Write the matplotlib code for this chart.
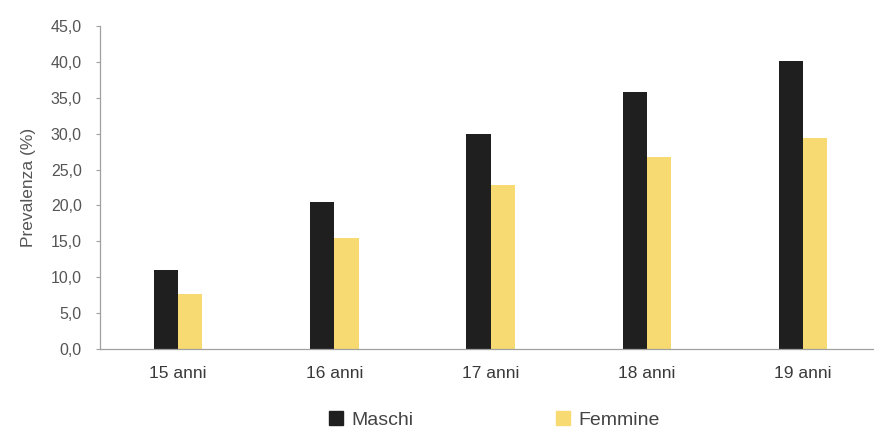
import numpy as np
import matplotlib
matplotlib.use('Agg')
import matplotlib.pyplot as plt
from matplotlib.patches import Patch

plt.rcParams['font.family'] = ['Liberation Sans', 'DejaVu Sans']

categorie = ['15 anni', '16 anni', '17 anni', '18 anni', '19 anni']
maschi = [11.0, 20.5, 30.0, 35.8, 40.1]
femmine = [7.6, 15.5, 22.8, 26.7, 29.4]
yticks = [0, 5, 10, 15, 20, 25, 30, 35, 40, 45]

col_m = '#1f1f1f'
col_f = '#f7da72'
grigio = '#a0a0a0'
testo = '#555555'

fig = plt.figure(figsize=(8.74, 4.28), dpi=100)
ax = fig.add_axes([0.1144, 0.1846, 0.8856, 0.7547])

x = np.arange(len(categorie))
w = 0.155
ax.bar(x - w / 2, maschi, w, color=col_m)
ax.bar(x + w / 2, femmine, w, color=col_f)

ax.set_xlim(-0.5, 4.455)
ax.set_ylim(0, 45)
ax.set_yticks(yticks)
ax.set_yticklabels([f'{v:.1f}'.replace('.', ',') for v in yticks],
                   fontsize=11.5, color=testo)
ax.set_xticks(x)
ax.set_xticklabels(categorie, fontsize=12.5, color='#3a3a3a')
ax.tick_params(axis='x', length=0, pad=12)
ax.tick_params(axis='y', length=3, color=grigio, pad=10)

for s in ['top', 'right']:
    ax.spines[s].set_visible(False)
for s in ['left', 'bottom']:
    ax.spines[s].set_color(grigio)
    ax.spines[s].set_linewidth(0.9)

ax.set_ylabel('Prevalenza (%)', fontsize=12.5, color=testo, labelpad=11)

# legenda in basso, come nell'originale
handles = [Patch(color=col_m, label='Maschi'), Patch(color=col_f, label='Femmine')]
fig.legend(handles=handles, loc='center left', bbox_to_anchor=(329 / 874, 1 - 420 / 428),
           ncol=2, frameon=False, fontsize=14, handlelength=0.72, handleheight=0.72,
           columnspacing=7.3, handletextpad=0.45, borderpad=0, borderaxespad=0,
           labelcolor='#444444')

fig.savefig('out.png', dpi=100)
